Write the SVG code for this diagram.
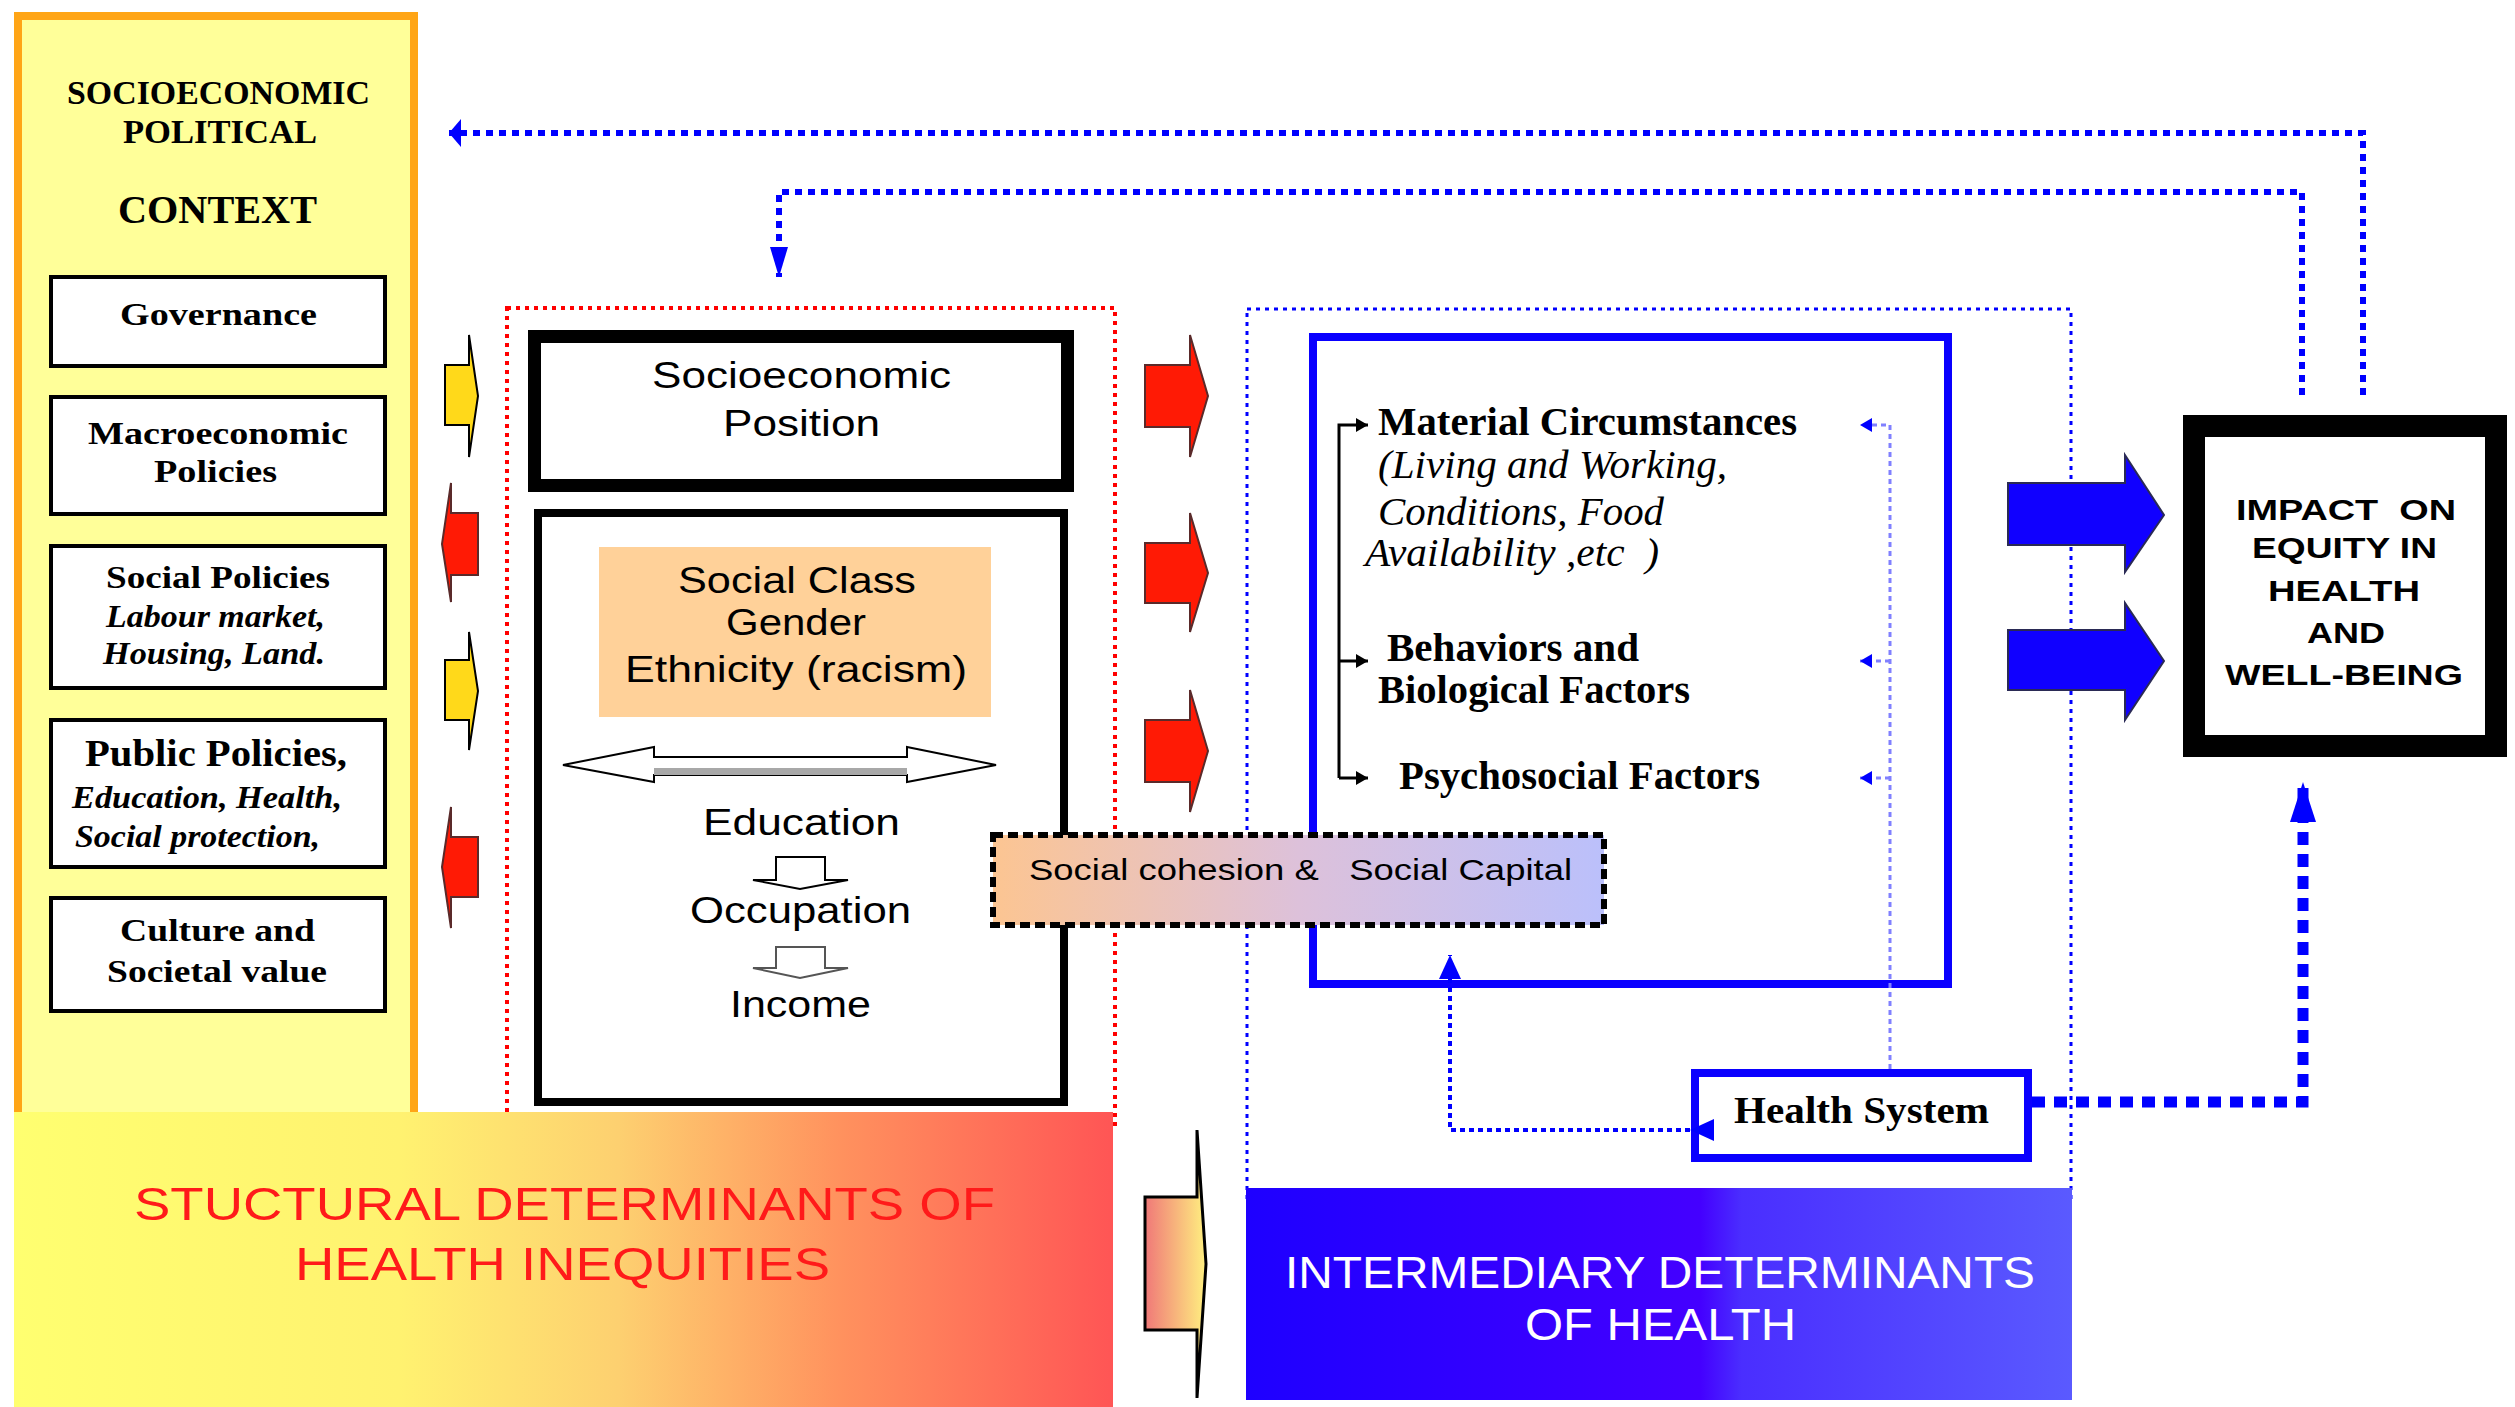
<svg xmlns="http://www.w3.org/2000/svg" width="2515" height="1407" viewBox="0 0 2515 1407">
  <style>
    .serifB { font-family: "Liberation Serif", "Times New Roman", serif; font-weight: bold; fill: #000; }
    .serifBI { font-family: "Liberation Serif", "Times New Roman", serif; font-weight: bold; font-style: italic; fill: #000; }
    .serifI { font-family: "Liberation Serif", "Times New Roman", serif; font-style: italic; fill: #000; }
    .sans { font-family: "Liberation Sans", Arial, sans-serif; fill: #000; }
    .sansB { font-family: "Liberation Sans", Arial, sans-serif; font-weight: bold; fill: #000; }
    .box { fill: #fff; stroke: #000; stroke-width: 4; }
    .redArrow { fill: #FF1A05; stroke: #5a2a2a; stroke-width: 2; }
    .yelArrow { fill: #FFD91A; stroke: #000; stroke-width: 2; }
    .blueArrow { fill: #1000FF; stroke: #2a2a55; stroke-width: 2; }
    .dotBlue { fill: none; stroke: #0000FF; stroke-width: 6; stroke-dasharray: 7 6; }
    .dotThick { fill: none; stroke: #0000FF; stroke-width: 11; stroke-dasharray: 13 9; }
    .dotMid { fill: none; stroke: #0000FF; stroke-width: 4; stroke-dasharray: 5 4; }
    .dotThin { fill: none; stroke: #8080FF; stroke-width: 3; stroke-dasharray: 5 4; }
    .bracket { fill: none; stroke: #000; stroke-width: 3; }
  </style>
  <defs>
    <linearGradient id="gStruct" x1="0" y1="0" x2="1" y2="0">
      <stop offset="0" stop-color="#FFFF70"/>
      <stop offset="0.35" stop-color="#FFF270"/>
      <stop offset="0.55" stop-color="#FDD070"/>
      <stop offset="0.75" stop-color="#FF925E"/>
      <stop offset="1" stop-color="#FF5555"/>
    </linearGradient>
    <linearGradient id="gInter" x1="0" y1="0" x2="1" y2="0">
      <stop offset="0" stop-color="#1E00FF"/>
      <stop offset="0.55" stop-color="#4400FF"/>
      <stop offset="0.6" stop-color="#4A2EFF"/>
      <stop offset="1" stop-color="#5A5AFF"/>
    </linearGradient>
    <linearGradient id="gCohesion" x1="0" y1="0" x2="1" y2="0">
      <stop offset="0" stop-color="#FCC592"/>
      <stop offset="0.5" stop-color="#DDC1DA"/>
      <stop offset="1" stop-color="#BBC0FB"/>
    </linearGradient>
    <linearGradient id="gBottomArrow" x1="0" y1="0" x2="1" y2="0">
      <stop offset="0" stop-color="#F07878"/>
      <stop offset="1" stop-color="#FFF080"/>
    </linearGradient>
    <marker id="mTopLeft" markerUnits="userSpaceOnUse" markerWidth="14" markerHeight="28" refX="12" refY="14" orient="auto">
      <path d="M0,0 L12,14 L0,28 z" fill="#0000FF"/>
    </marker>
    <marker id="mLong" markerUnits="userSpaceOnUse" markerWidth="32" markerHeight="18" refX="30" refY="9" orient="auto">
      <path d="M0,0 L30,9 L0,18 z" fill="#0000FF"/>
    </marker>
    <marker id="mBig" markerUnits="userSpaceOnUse" markerWidth="42" markerHeight="26" refX="40" refY="13" orient="auto">
      <path d="M0,0 L40,13 L0,26 z" fill="#0000FF"/>
    </marker>
    <marker id="mMid" markerUnits="userSpaceOnUse" markerWidth="26" markerHeight="22" refX="24" refY="11" orient="auto">
      <path d="M0,0 L24,11 L0,22 z" fill="#0000FF"/>
    </marker>
    <marker id="mSmall" markerUnits="userSpaceOnUse" markerWidth="14" markerHeight="14" refX="12" refY="7" orient="auto">
      <path d="M0,0 L12,7 L0,14 z" fill="#0000FF"/>
    </marker>
    <marker id="mBlack" markerUnits="userSpaceOnUse" markerWidth="14" markerHeight="14" refX="12" refY="7" orient="auto">
      <path d="M0,0 L12,7 L0,14 z" fill="#000"/>
    </marker>
  </defs>

  <rect width="2515" height="1407" fill="#fff"/>

  <!-- Context panel -->
  <g id="context">
    <rect x="18" y="16" width="396" height="1110" fill="#FFFF99" stroke="#FFA516" stroke-width="8"/>
    <text class="serifB" x="67" y="104" font-size="33" textLength="303" lengthAdjust="spacingAndGlyphs">SOCIOECONOMIC</text>
    <text class="serifB" x="123" y="143" font-size="33" textLength="194" lengthAdjust="spacingAndGlyphs">POLITICAL</text>
    <text class="serifB" x="118" y="223" font-size="40" textLength="199" lengthAdjust="spacingAndGlyphs">CONTEXT</text>
  </g>
  <g id="governance">
    <rect class="box" x="51" y="277" width="334" height="89"/>
    <text class="serifB" x="120" y="325" font-size="32" textLength="197" lengthAdjust="spacingAndGlyphs">Governance</text>
  </g>
  <g id="macroeconomic">
    <rect class="box" x="51" y="397" width="334" height="117"/>
    <text class="serifB" x="88" y="444" font-size="32" textLength="260" lengthAdjust="spacingAndGlyphs">Macroeconomic</text>
    <text class="serifB" x="154" y="482" font-size="32" textLength="123" lengthAdjust="spacingAndGlyphs">Policies</text>
  </g>
  <g id="social-policies">
    <rect class="box" x="51" y="546" width="334" height="142"/>
    <text class="serifB" x="106" y="588" font-size="32" textLength="224" lengthAdjust="spacingAndGlyphs">Social Policies</text>
    <text class="serifBI" x="106" y="627" font-size="32" textLength="219" lengthAdjust="spacingAndGlyphs">Labour market,</text>
    <text class="serifBI" x="103" y="664" font-size="32" textLength="222" lengthAdjust="spacingAndGlyphs">Housing, Land.</text>
  </g>
  <g id="public-policies">
    <rect class="box" x="51" y="720" width="334" height="147"/>
    <text class="serifB" x="85" y="766" font-size="38" textLength="262" lengthAdjust="spacingAndGlyphs">Public Policies,</text>
    <text class="serifBI" x="72" y="808" font-size="32" textLength="270" lengthAdjust="spacingAndGlyphs">Education, Health,</text>
    <text class="serifBI" x="75" y="847" font-size="32" textLength="245" lengthAdjust="spacingAndGlyphs">Social protection,</text>
  </g>
  <g id="culture">
    <rect class="box" x="51" y="898" width="334" height="113"/>
    <text class="serifB" x="120" y="941" font-size="32" textLength="195" lengthAdjust="spacingAndGlyphs">Culture and</text>
    <text class="serifB" x="107" y="982" font-size="32" textLength="220" lengthAdjust="spacingAndGlyphs">Societal value</text>
  </g>

  <!-- Region outlines -->
  <g id="regions">
    <rect x="507" y="308" width="608" height="820" fill="none" stroke="#FF0000" stroke-width="4" stroke-dasharray="4 5"/>
    <rect x="1247" y="309" width="824" height="890" fill="none" stroke="#0000FF" stroke-width="3" stroke-dasharray="4 5"/>
  </g>

  <!-- Small context arrows -->
  <g id="context-arrows">
    <polygon class="yelArrow" points="445,365 469,365 469,335 478,396 469,457 469,425 445,425"/>
    <polygon class="redArrow" points="478,513 451,513 451,483 442,544 451,602 451,575 478,575"/>
    <polygon class="yelArrow" points="445,660 469,660 469,632 478,691 469,750 469,720 445,720"/>
    <polygon class="redArrow" points="478,837 451,837 451,807 442,867 451,928 451,897 478,897"/>
  </g>

  <g id="socioeconomic-position">
    <rect x="534.5" y="336.5" width="533" height="149" fill="#fff" stroke="#000" stroke-width="13"/>
    <text class="sans" x="652" y="388" font-size="36" textLength="299" lengthAdjust="spacingAndGlyphs">Socioeconomic</text>
    <text class="sans" x="723" y="436" font-size="36" textLength="157" lengthAdjust="spacingAndGlyphs">Position</text>
  </g>

  <g id="structure">
    <rect x="538" y="513" width="526" height="589" fill="#fff" stroke="#000" stroke-width="8"/>
    <rect x="599" y="547" width="392" height="170" fill="#FFD199"/>
    <text class="sans" x="678" y="593" font-size="37" textLength="238" lengthAdjust="spacingAndGlyphs">Social Class</text>
    <text class="sans" x="726" y="635" font-size="37" textLength="140" lengthAdjust="spacingAndGlyphs">Gender</text>
    <text class="sans" x="625" y="682" font-size="37" textLength="342" lengthAdjust="spacingAndGlyphs">Ethnicity (racism)</text>
    <!-- double-headed hollow arrow -->
    <polygon points="563,765 654,747 654,757 907,757 907,747 996,765 907,782 907,775 654,775 654,782" fill="#fff" stroke="#000" stroke-width="2"/>
    <rect x="654" y="768" width="253" height="7" fill="#A8A8A8"/>
    <text class="sans" x="703" y="835" font-size="36" textLength="197" lengthAdjust="spacingAndGlyphs">Education</text>
    <polygon points="776,857 825,857 825,880 848,880 800,889 753,880 776,880" fill="#fff" stroke="#000" stroke-width="2"/>
    <text class="sans" x="690" y="923" font-size="36" textLength="221" lengthAdjust="spacingAndGlyphs">Occupation</text>
    <polygon points="776,947 825,947 825,968 848,968 800,978 753,968 776,968" fill="#fff" stroke="#555" stroke-width="2"/>
    <text class="sans" x="730" y="1017" font-size="36" textLength="141" lengthAdjust="spacingAndGlyphs">Income</text>
  </g>

  <!-- Arrows from structural to intermediary -->
  <g id="flow-arrows">
    <polygon class="redArrow" points="1145,365 1190,365 1190,335 1208,396 1190,457 1190,427 1145,427"/>
    <polygon class="redArrow" points="1145,543 1190,543 1190,513 1208,573 1190,632 1190,603 1145,603"/>
    <polygon class="redArrow" points="1145,720 1190,720 1190,690 1208,751 1190,812 1190,782 1145,782"/>
    <polygon points="1145,1197 1197,1197 1197,1130 1206,1264 1197,1398 1197,1330 1145,1330" fill="url(#gBottomArrow)" stroke="#000" stroke-width="3"/>
  </g>

  <g id="intermediary">
    <rect x="1313" y="337" width="635" height="647" fill="#fff" stroke="#0A00FF" stroke-width="8"/>
    <text class="serifB" x="1378" y="435" font-size="39" textLength="419" lengthAdjust="spacingAndGlyphs">Material Circumstances</text>
    <text class="serifI" x="1378" y="478" font-size="39" textLength="349" lengthAdjust="spacingAndGlyphs">(Living and Working,</text>
    <text class="serifI" x="1378" y="525" font-size="39" textLength="286" lengthAdjust="spacingAndGlyphs">Conditions, Food</text>
    <text class="serifI" x="1365" y="566" font-size="39" textLength="294" lengthAdjust="spacingAndGlyphs" xml:space="preserve">Availability ,etc  )</text>
    <text class="serifB" x="1387" y="661" font-size="39" textLength="252" lengthAdjust="spacingAndGlyphs">Behaviors and</text>
    <text class="serifB" x="1378" y="703" font-size="39" textLength="312" lengthAdjust="spacingAndGlyphs">Biological Factors</text>
    <text class="serifB" x="1399" y="789" font-size="39" textLength="361" lengthAdjust="spacingAndGlyphs">Psychosocial Factors</text>
  </g>

  <g id="social-cohesion">
    <rect x="993" y="835" width="611" height="90" fill="url(#gCohesion)" stroke="#000" stroke-width="6" stroke-dasharray="10 5"/>
    <text class="sans" x="1029" y="880" font-size="29" textLength="543" lengthAdjust="spacingAndGlyphs" xml:space="preserve">Social cohesion &amp;   Social Capital</text>
  </g>

  <g id="health-system">
    <rect x="1695" y="1073" width="333" height="85" fill="#fff" stroke="#0A00FF" stroke-width="8"/>
    <text class="serifB" x="1734" y="1123" font-size="38" textLength="255" lengthAdjust="spacingAndGlyphs">Health System</text>
  </g>

  <g id="impact">
    <rect x="2194" y="426" width="302" height="320" fill="#fff" stroke="#000" stroke-width="22"/>
    <text class="sansB" x="2236" y="520" font-size="29" textLength="220" lengthAdjust="spacingAndGlyphs" xml:space="preserve">IMPACT  ON</text>
    <text class="sansB" x="2252" y="558" font-size="29" textLength="185" lengthAdjust="spacingAndGlyphs">EQUITY IN</text>
    <text class="sansB" x="2268" y="601" font-size="29" textLength="152" lengthAdjust="spacingAndGlyphs">HEALTH</text>
    <text class="sansB" x="2307" y="643" font-size="29" textLength="78" lengthAdjust="spacingAndGlyphs">AND</text>
    <text class="sansB" x="2225" y="685" font-size="29" textLength="238" lengthAdjust="spacingAndGlyphs">WELL-BEING</text>
  </g>

  <g id="impact-arrows">
    <polygon class="blueArrow" points="2008,483 2125,483 2125,455 2164,515 2125,572 2125,545 2008,545"/>
    <polygon class="blueArrow" points="2008,630 2125,630 2125,603 2164,661 2125,720 2125,690 2008,690"/>
  </g>

  <!-- Connectors -->
  <g id="connectors">
    <path class="dotBlue" d="M2363,395 V133 H449" marker-end="url(#mTopLeft)"/>
    <path class="dotBlue" d="M2302,395 V192 H779 V277" marker-end="url(#mLong)"/>
    <path class="dotThick" d="M2032,1102 H2303 V782" marker-end="url(#mBig)"/>
    <path class="dotMid" d="M1690,1130 H1450 V955" marker-start="url(#mMid)" marker-end="url(#mMid)"/>
    <path class="dotThin" d="M1890,1069 V425 H1860" marker-end="url(#mSmall)"/>
    <path class="dotThin" d="M1890,661 H1860" marker-end="url(#mSmall)"/>
    <path class="dotThin" d="M1890,778 H1860" marker-end="url(#mSmall)"/>
    <path class="bracket" d="M1339,778 V425 H1368" marker-end="url(#mBlack)"/>
    <path class="bracket" d="M1339,661 H1368" marker-end="url(#mBlack)"/>
    <path class="bracket" d="M1339,778 H1368" marker-end="url(#mBlack)"/>
  </g>

  <g id="structural-label">
    <rect x="14" y="1112" width="1099" height="295" fill="url(#gStruct)"/>
    <text class="sans" x="134" y="1220" font-size="46" style="fill:#FF1A1A" textLength="861" lengthAdjust="spacingAndGlyphs">STUCTURAL DETERMINANTS OF</text>
    <text class="sans" x="295" y="1280" font-size="46" style="fill:#FF1A1A" textLength="535" lengthAdjust="spacingAndGlyphs">HEALTH INEQUITIES</text>
  </g>

  <g id="intermediary-label">
    <rect x="1246" y="1188" width="826" height="212" fill="url(#gInter)"/>
    <text class="sans" x="1285" y="1288" font-size="44" style="fill:#fff" textLength="750" lengthAdjust="spacingAndGlyphs">INTERMEDIARY DETERMINANTS</text>
    <text class="sans" x="1525" y="1340" font-size="44" style="fill:#fff" textLength="271" lengthAdjust="spacingAndGlyphs">OF HEALTH</text>
  </g>
</svg>
